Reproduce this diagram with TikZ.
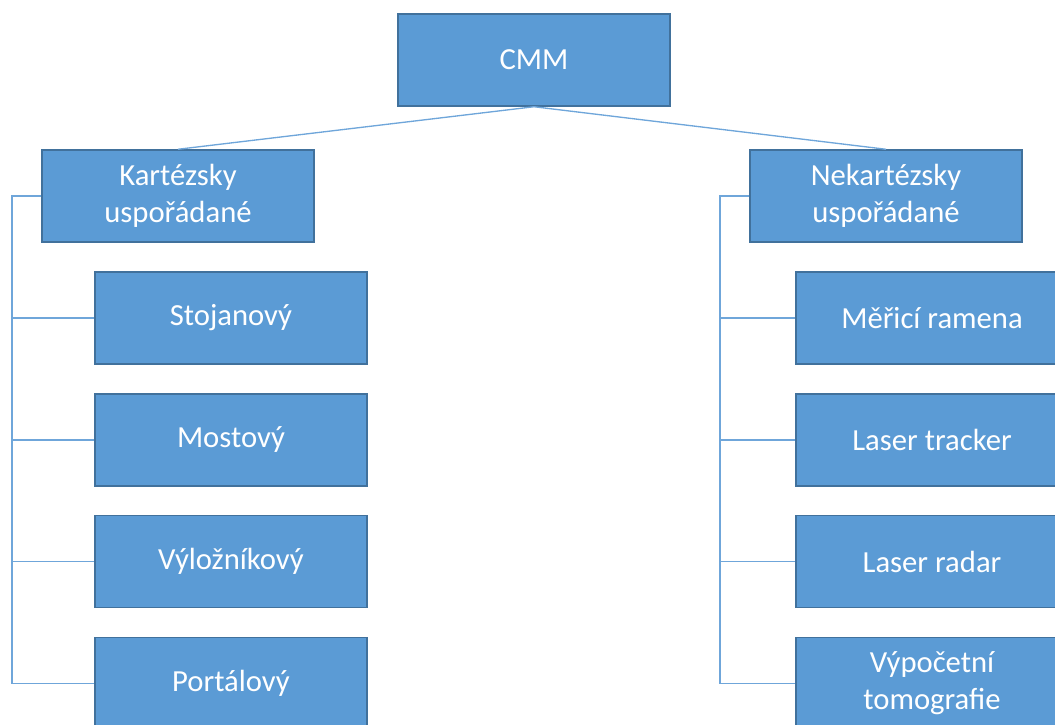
\documentclass[tikz,border=0pt]{standalone}
\usepackage{fontspec}
\setmainfont{Carlito}
\usepackage{xcolor}
\usepackage{tikz}
\usetikzlibrary{positioning,calc}

\definecolor{boxfill}{HTML}{5B9BD5}
\definecolor{boxline}{HTML}{41719C}
\definecolor{linkcol}{HTML}{6FA6DA}

\begin{document}
\begin{tikzpicture}[x=0.75pt,y=-0.75pt,
                    box/.style={rectangle,draw=boxline,fill=boxfill,line width=1.1pt,
                    text=white,align=center,minimum width=204pt,minimum height=69pt,
                    font=\fontsize{23}{27.75}\selectfont},
                    link/.style={draw=linkcol,line width=1pt}]

\useasboundingbox (0,0) rectangle (1055,724);
\clip (0,0) rectangle (1055,724);

\node[box] (cmm) at (534,60) {CMM};
\node[box] (kart) at (178,196) {Kartézsky\\uspořádané};
\node[box] (nekart) at (886,196) {Nekartézsky\\uspořádané};

% kartezske
\node[box] (stoj) at (231,318) {Stojanový};
\node[box] (most) [below=21.3pt of stoj] {Mostový};
\node[box] (vyl) [below=21.3pt of most] {Výložníkový};
\node[box] (port) [below=21.3pt of vyl] {Portálový};

% nekartezske
\node[box] (ram) at (932,318) {Měřicí ramena};
\node[box] (track) [below=21.3pt of ram] {Laser tracker};
\node[box] (radar) [below=21.3pt of track] {Laser radar};
\node[box] (ct) [below=21.3pt of radar] {Výpočetní\\tomografie};

\coordinate (lrail) at (12,196);
\coordinate (rrail) at (720,196);

\draw[link] (cmm.south) -- (kart.north);
\draw[link] (cmm.south) -- (nekart.north);

\draw[link] (kart.west) -- (lrail) |- (port.west);
\draw[link] (stoj.west -| lrail) -- (stoj.west);
\draw[link] (most.west -| lrail) -- (most.west);
\draw[link] (vyl.west -| lrail) -- (vyl.west);

\draw[link] (nekart.west) -- (rrail) |- (ct.west);
\draw[link] (ram.west -| rrail) -- (ram.west);
\draw[link] (track.west -| rrail) -- (track.west);
\draw[link] (radar.west -| rrail) -- (radar.west);

\end{tikzpicture}
\end{document}
